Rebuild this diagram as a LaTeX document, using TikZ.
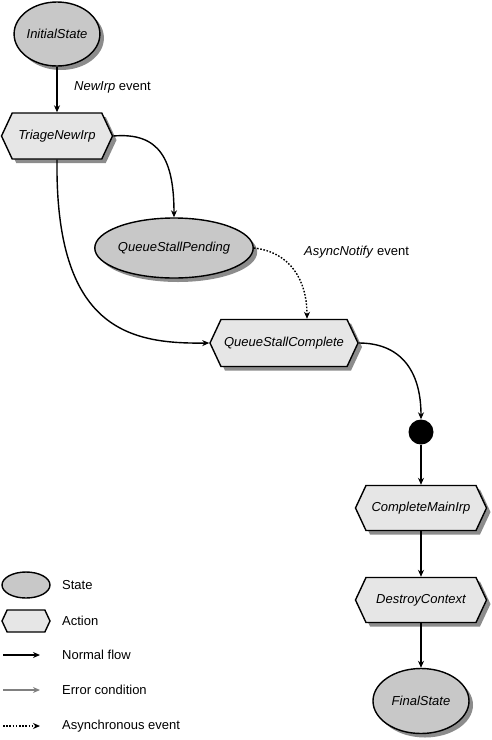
\documentclass[tikz,border=0pt]{standalone}
\usepackage{fontspec}
\setmainfont{Liberation Sans}
\usetikzlibrary{shapes.geometric,shapes.symbols,shadows,arrows.meta}
\definecolor{statefill}{RGB}{200,200,200}
\definecolor{actfill}{RGB}{230,230,230}
\definecolor{shadowc}{RGB}{140,140,140}
\definecolor{errc}{RGB}{128,128,128}
\tikzset{
  every node/.style={font=\fontsize{13}{15}\selectfont},
  shd/.style={drop shadow={shadow xshift=4pt,shadow yshift=-4pt,fill=shadowc,opacity=1}},
  state/.style={ellipse,draw=black,line width=1.4pt,fill=statefill,inner sep=0pt,font=\fontsize{13}{15}\selectfont\itshape},
  action/.style={signal,signal to=west and east,signal pointer angle=130,draw=black,line width=1.4pt,fill=actfill,inner sep=0pt,font=\fontsize{13}{15}\selectfont\itshape},
  flow/.style={line width=1.4pt,-{Stealth[length=7pt,width=6pt]}},
  asyncflow/.style={flow,dash pattern=on 1.6pt off 1.6pt},
  errflow/.style={flow,draw=errc},
  lbl/.style={anchor=west,inner sep=0pt},
}
\begin{document}
\begin{tikzpicture}[x=1pt,y=-1pt]
\useasboundingbox (0,0) rectangle (491,740);
% main nodes
\node[state,shd,minimum width=84pt,minimum height=64pt] (init) at (57,34) {InitialState};
\node[action,shd,minimum width=111pt,minimum height=46pt] (triage) at (57,136) {TriageNewIrp};
\node[state,shd,minimum width=143pt,minimum height=60pt] (qsp) at (174,248) {QueueStallPending};
\node[action,shd,minimum width=148pt,minimum height=47pt] (qsc) at (284,343) {QueueStallComplete};
\node[circle,fill=black,minimum size=25pt,inner sep=0pt] (dot) at (421,432) {};
\node[action,shd,minimum width=131pt,minimum height=45pt] (cmi) at (421,508) {CompleteMainIrp};
\node[action,shd,minimum width=131pt,minimum height=45pt] (dc) at (421,600) {DestroyContext};
\node[state,shd,minimum width=96pt,minimum height=65pt] (final) at (421,701) {FinalState};
% labels
\node[lbl] (l1) at (74,87) {\textit{NewIrp} event};
\node[lbl] (l2) at (304,252) {\textit{AsyncNotify} event};
% connectors
\draw[flow] (init.south) -- (triage.north);
\draw[flow] (triage.east) .. controls (160,132) and (174,160) .. (qsp.north);
\draw[flow] (triage.south) .. controls (55,330) and (130,344) .. (qsc.west);
\draw[asyncflow] (qsp.east) .. controls (290,252) and (307,280) .. (qsc.north -| 307,0);
\draw[flow] (qsc.east) .. controls (400,343) and (421,370) .. (dot.north);
\draw[flow] (dot.south) -- (cmi.north);
\draw[flow] (cmi.south) -- (dc.north);
\draw[flow] (dc.south) -- (final.north);
% legend
\node[state,minimum width=48pt,minimum height=26pt] (lstate) at (26,585) {};
\node[lbl] (tstate) at (62,585) {State};
\node[action,minimum width=48pt,minimum height=22pt] (laction) at (26,621) {};
\node[lbl] (taction) at (62,621) {Action};
\coordinate (n1) at (3,655); \coordinate (n2) at (40,655);
\draw[flow] (n1) -- (n2);
\node[lbl] (tnormal) at (62,655) {Normal flow};
\coordinate (e1) at (3,690); \coordinate (e2) at (40,690);
\draw[errflow] (e1) -- (e2);
\node[lbl] (terr) at (62,690) {Error condition};
\coordinate (a1) at (3,726); \coordinate (a2) at (40,726);
\draw[asyncflow] (a1) -- (a2);
\node[lbl] (tasync) at (62,726) {Asynchronous event};
\end{tikzpicture}
\end{document}
